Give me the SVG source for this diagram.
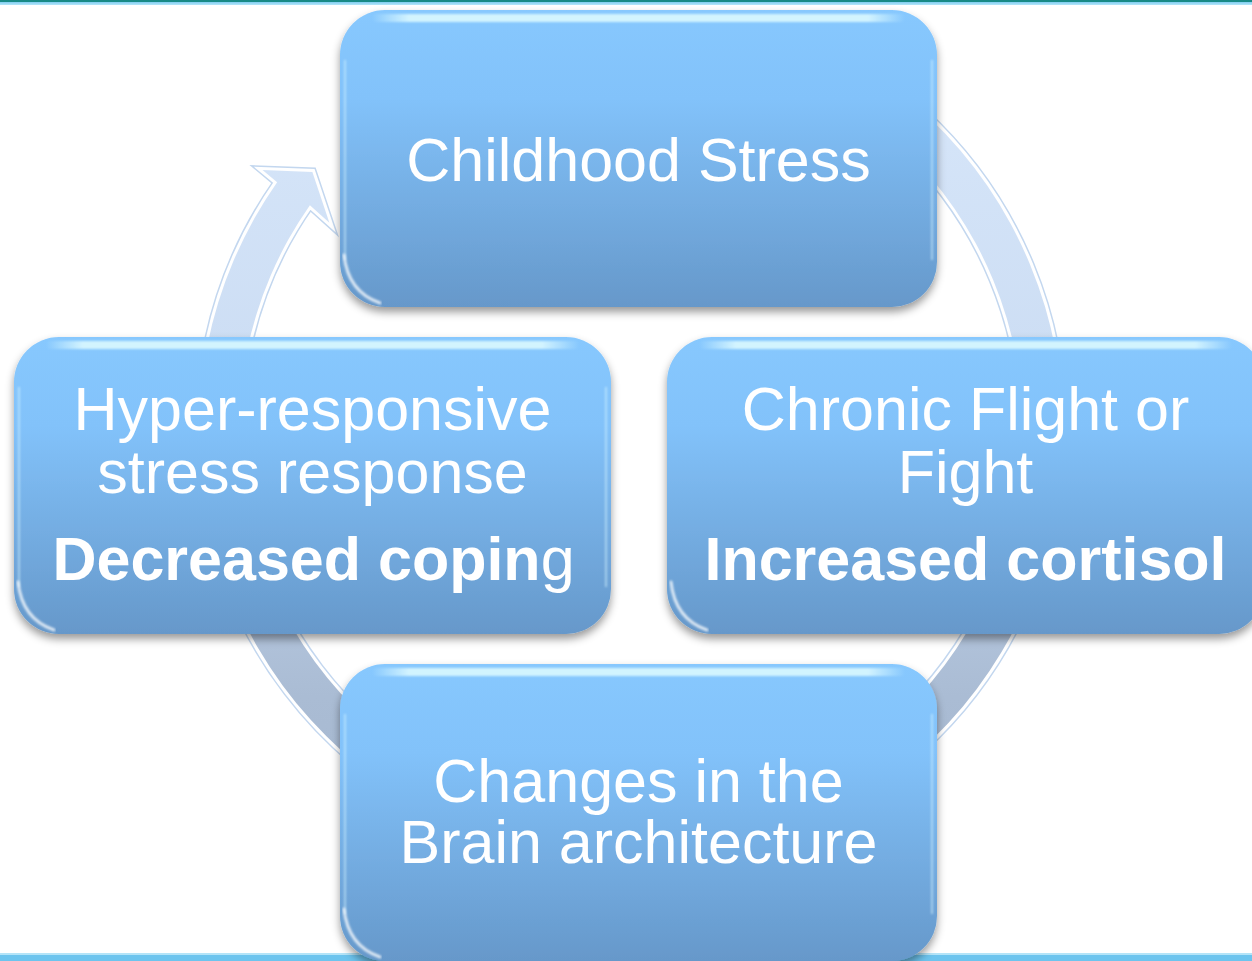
<svg xmlns="http://www.w3.org/2000/svg" width="1252" height="961" viewBox="0 0 1252 961">
<defs>
<linearGradient id="boxFill" x1="0" y1="0" x2="0" y2="1">
<stop offset="0" stop-color="#87c8fe"/>
<stop offset="0.3" stop-color="#82c2fa"/>
<stop offset="1" stop-color="#6698ca"/>
</linearGradient>
<linearGradient id="hl" x1="0" y1="0" x2="1" y2="0">
<stop offset="0" stop-color="#e0fcff" stop-opacity="0"/>
<stop offset="0.07" stop-color="#e0fcff" stop-opacity="0.85"/>
<stop offset="0.93" stop-color="#e0fcff" stop-opacity="0.85"/>
<stop offset="1" stop-color="#e0fcff" stop-opacity="0"/>
</linearGradient>
<linearGradient id="ringFill" gradientUnits="userSpaceOnUse" x1="0" y1="0" x2="0" y2="870">
<stop offset="0" stop-color="#d9e8fb"/>
<stop offset="0.4" stop-color="#cddef4"/>
<stop offset="0.8" stop-color="#aabcd4"/>
<stop offset="1" stop-color="#a4b6ce"/>
</linearGradient>
<linearGradient id="bandTop" x1="0" y1="0" x2="0" y2="1">
<stop offset="0" stop-color="#7fcdf0"/>
<stop offset="1" stop-color="#b5e6fa"/>
</linearGradient>
<filter id="shadow" x="-5%" y="-5%" width="110%" height="115%">
<feDropShadow dx="0" dy="5" stdDeviation="4" flood-color="#000" flood-opacity="0.4"/>
</filter>
<filter id="soft" x="-5%" y="-50%" width="110%" height="200%">
<feGaussianBlur stdDeviation="1.3"/>
</filter>
<path id="ringPath" d="M778.75,24.05 A432,432 0 1 1 277.13,182.21 L262.47,170.03 L312.37,171.98 L329.37,222.69 L309.89,205.16 A392,392 0 1 0 765.07,61.64 Z"/>
</defs>
<style>
.box { fill: url(#boxFill); filter: url(#shadow); }
.hl { fill: url(#hl); filter: url(#soft); }
.glare { fill: none; stroke: #ffffff; stroke-width: 3; stroke-opacity: 0.75; stroke-linecap: round; filter: url(#soft); }
.edge { fill: none; stroke: #d4f2ff; stroke-width: 2; stroke-opacity: 0.55; filter: url(#soft); }
.lbl { font-family: "Liberation Sans", Arial, sans-serif; font-size: 61px; fill: #ffffff; text-anchor: middle; }
.b { font-weight: bold; }
.n { font-weight: normal; }
</style>
<rect x="0" y="0" width="1252" height="961" fill="#ffffff"/>
<!-- top band -->
<rect x="0" y="0" width="1252" height="2" fill="#178a86"/>
<rect x="0" y="2" width="1252" height="3" fill="url(#bandTop)"/>
<!-- bottom band -->
<rect x="0" y="953" width="1252" height="2" fill="#b4e4f8"/>
<rect x="0" y="955" width="1252" height="6" fill="#6dc4ee"/>
<g id="connectors">
<use href="#ringPath" fill="none" stroke="#c3d7ef" stroke-width="9" stroke-linejoin="miter"/>
<use href="#ringPath" fill="none" stroke="#ffffff" stroke-width="6" stroke-linejoin="miter"/>
<use href="#ringPath" fill="url(#ringFill)"/>
</g>
<g id="node-childhood-stress">
<rect class="box" x="340" y="10" width="597" height="297" rx="45" ry="45"/>
<rect class="hl" x="372" y="14" width="533" height="8" rx="4"/>
<path class="edge" d="M345,60 L345,260 M932,60 L932,260"/>
<path class="glare" d="M344,255 Q348,292 380,303"/>
<text class="lbl" x="638.5" y="181">Childhood Stress</text>
</g>
<g id="node-chronic-flight">
<rect class="box" x="667" y="337" width="597" height="297" rx="45" ry="45"/>
<rect class="hl" x="699" y="341" width="533" height="8" rx="4"/>
<path class="edge" d="M672,387 L672,587"/>
<path class="glare" d="M671,582 Q675,619 707,630"/>
<text class="lbl" x="965.5" y="430">Chronic Flight or</text>
<text class="lbl" x="965.5" y="493">Fight</text>
<text class="lbl b" x="965.5" y="580">Increased cortisol</text>
</g>
<g id="node-brain-changes">
<rect class="box" x="340" y="664" width="597" height="297" rx="45" ry="45"/>
<rect class="hl" x="372" y="668" width="533" height="8" rx="4"/>
<path class="edge" d="M345,714 L345,914 M932,714 L932,914"/>
<path class="glare" d="M344,909 Q348,946 380,957"/>
<text class="lbl" x="638.5" y="802">Changes in the</text>
<text class="lbl" x="638.5" y="863">Brain architecture</text>
</g>
<g id="node-hyper-responsive">
<rect class="box" x="14" y="337" width="597" height="297" rx="45" ry="45"/>
<rect class="hl" x="46" y="341" width="533" height="8" rx="4"/>
<path class="edge" d="M19,387 L19,587 M606,387 L606,587"/>
<path class="glare" d="M18,582 Q22,619 54,630"/>
<text class="lbl" x="312.5" y="430">Hyper-responsive</text>
<text class="lbl" x="312.5" y="493">stress response</text>
<text class="lbl b" x="313.5" y="580">Decreased copin<tspan class="n">g</tspan></text>
</g>
</svg>
